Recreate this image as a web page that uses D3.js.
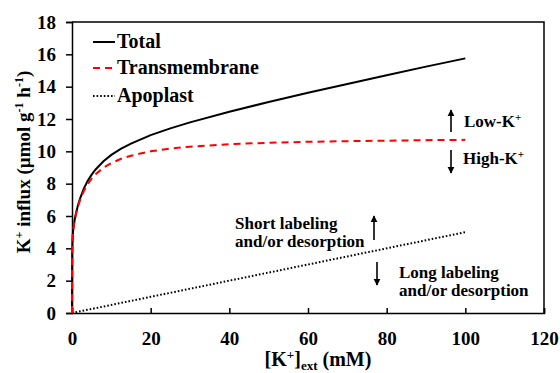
<!DOCTYPE html>
<html><head><meta charset="utf-8">
<script src="https://cdn.jsdelivr.net/npm/d3@7"></script>
<style>body{margin:0;background:#fff}svg{display:block}svg text{font-family:"Liberation Serif","Times New Roman","DejaVu Serif",serif !important;font-weight:bold;fill:#000}</style>
</head><body>
<script>
// External K+ concentration (mM)
const kExt = [0, 0.05, 0.1, 0.2, 0.3, 0.5, 0.75, 1, 1.5, 2, 3, 4, 5, 6, 8, 10, 12.5, 15, 20, 25, 30, 40, 50, 60, 70, 80, 90, 100];
// K+ influx (umol g-1 h-1)
const totalFlux = [0, 3.65, 4.32, 4.84, 5.12, 5.50, 5.86, 6.15, 6.65, 7.05, 7.69, 8.18, 8.56, 8.88, 9.39, 9.78, 10.17, 10.48, 11.00, 11.42, 11.79, 12.45, 13.05, 13.62, 14.17, 14.71, 15.24, 15.75];
const transFlux = [0, 3.65, 4.31, 4.83, 5.11, 5.47, 5.82, 6.10, 6.57, 6.95, 7.54, 7.98, 8.31, 8.58, 8.99, 9.28, 9.54, 9.73, 10.00, 10.17, 10.29, 10.44, 10.53, 10.59, 10.63, 10.66, 10.69, 10.71];
const apoK = [0, 20, 40, 60, 80, 100];
const apoFlux = [0, 1, 2, 3, 4, 5];
const xTicks = [0, 20, 40, 60, 80, 100, 120];
const yTicks = [0, 2, 4, 6, 8, 10, 12, 14, 16, 18];
const seriesNames = ["Total", "Transmembrane", "Apoplast"];

const W = 560, H = 373;
const m = {left: 72, top: 22, right: 16, bottom: 60};
const FONT = '"Liberation Serif","Times New Roman","DejaVu Serif",serif';
const svg = d3.select("body").append("svg").attr("width", W).attr("height", H)
  .attr("font-family", FONT).attr("font-weight", "bold");
const x = d3.scaleLinear().domain([0, 120]).range([m.left, W - m.right]);
const y = d3.scaleLinear().domain([0, 18]).range([H - m.bottom, m.top]);

const defs = svg.append("defs");
defs.append("marker").attr("id", "ah").attr("viewBox", "0 0 10 10").attr("refX", 9).attr("refY", 5)
  .attr("markerWidth", 4.5).attr("markerHeight", 4.5).attr("orient", "auto")
  .append("path").attr("d", "M0,0L10,5L0,10Z").attr("fill", "#000");

// frame
svg.append("path").attr("d", `M${x(0)},${y(18)}H${x(120)}V${y(0)}`).attr("fill", "none").attr("stroke", "#000").attr("stroke-width", 1.5);

const xAxis = svg.append("g").attr("transform", `translate(0,${y(0)})`)
  .call(d3.axisBottom(x).tickValues(xTicks).tickSize(-5).tickPadding(14));
const yAxis = svg.append("g").attr("transform", `translate(${x(0)},0)`)
  .call(d3.axisLeft(y).tickValues(yTicks).tickSize(6).tickPadding(10));
[xAxis, yAxis].forEach(g => {
  g.attr("font-family", FONT).attr("font-size", 19).attr("font-weight", "bold");
  g.select(".domain").attr("stroke-width", 1.5);
  g.selectAll(".tick line").attr("stroke-width", 1.5);
  g.selectAll(".tick text").style("font-size", "19px").style("font-family", FONT).style("font-weight", "bold");
});
xAxis.selectAll(".tick text").attr("dy", "0.95em");

const line = d3.line().x(d => x(d[0])).y(d => y(d[1]));
const apo = apoK.map((k, i) => [k, apoFlux[i]]);
const trans = kExt.map((k, i) => [k, transFlux[i]]);
const tot = kExt.map((k, i) => [k, totalFlux[i]]);

svg.append("path").datum(apo).attr("d", line).attr("fill", "none").attr("stroke", "#000").attr("stroke-width", 2).attr("stroke-dasharray", "1.6,2");
svg.append("path").datum(tot).attr("d", line).attr("fill", "none").attr("stroke", "#000").attr("stroke-width", 2);
svg.append("path").datum(trans).attr("d", line).attr("fill", "none").attr("stroke", "#ff0000").attr("stroke-width", 2).attr("stroke-dasharray", "7,5");

// legend
const styles = [{c: "#000", d: null}, {c: "#ff0000", d: "7,5"}, {c: "#000", d: "1.6,2"}];
const ly = [42, 68, 96];
seriesNames.forEach((n, i) => {
  svg.append("line").attr("x1", 93).attr("x2", 115).attr("y1", ly[i]).attr("y2", ly[i])
    .attr("stroke", styles[i].c).attr("stroke-width", 2).attr("stroke-dasharray", styles[i].d);
  svg.append("text").attr("x", 117).attr("y", ly[i] + 6).style("font-size", "20px").text(n);
});

// annotations
function arrow(x0, y0, y1) {
  svg.append("line").attr("x1", x0).attr("x2", x0).attr("y1", y0).attr("y2", y1)
    .attr("stroke", "#000").attr("stroke-width", 1.6).attr("marker-end", "url(#ah)");
}
arrow(451, 132, 110);
arrow(451, 150, 173);
arrow(374, 240, 216);
arrow(377, 262, 285);

function kLabel(xp, yp, pre) {
  const t = svg.append("text").attr("x", xp).attr("y", yp).style("font-size", "17px");
  t.append("tspan").text(pre + "K");
  t.append("tspan").attr("dy", -6).style("font-size", "11px").text("+");
}
kLabel(464, 127, "Low-");
kLabel(463, 164, "High-");
svg.append("text").attr("x", 235).attr("y", 229).style("font-size", "17px").text("Short labeling");
svg.append("text").attr("x", 235).attr("y", 247).style("font-size", "17px").text("and/or desorption");
svg.append("text").attr("x", 399).attr("y", 278).style("font-size", "17px").text("Long labeling");
svg.append("text").attr("x", 399).attr("y", 296).style("font-size", "17px").text("and/or desorption");

// x label
const xl = svg.append("text").attr("x", 318).attr("y", 366).attr("text-anchor", "middle").style("font-size", "20px");
xl.append("tspan").text("[K");
xl.append("tspan").attr("dy", -7).style("font-size", "13px").text("+");
xl.append("tspan").attr("dy", 7).text("]");
xl.append("tspan").attr("dy", 4).style("font-size", "13px").text("ext");
xl.append("tspan").attr("dy", -4).text(" (mM)");

// y label
const yl = svg.append("text").attr("transform", "translate(30,162) rotate(-90)").attr("text-anchor", "middle").style("font-size", "19px");
yl.append("tspan").text("K");
yl.append("tspan").attr("dy", -7).style("font-size", "12px").text("+");
yl.append("tspan").attr("dy", 7).text(" influx (µmol g");
yl.append("tspan").attr("dy", -7).style("font-size", "12px").text("-1");
yl.append("tspan").attr("dy", 7).text(" h");
yl.append("tspan").attr("dy", -7).style("font-size", "12px").text("-1");
yl.append("tspan").attr("dy", 7).text(")");
</script>
</body></html>
